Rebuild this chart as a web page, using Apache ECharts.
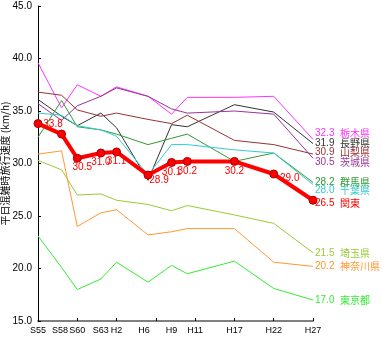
<!DOCTYPE html>
<html><head><meta charset="utf-8">
<script src="https://cdn.jsdelivr.net/npm/echarts@6/dist/echarts.min.js"></script>
<style>html,body{margin:0;padding:0;background:#fff}#c{width:382px;height:340px}</style>
</head><body><div id="c"></div>
<script>
// ---- data ----
var years = [1980, 1983, 1985, 1988, 1990, 1994, 1997, 1999, 2005, 2010, 2015];
var yearLabels = ['S55', 'S58', 'S60', 'S63', 'H2', 'H6', 'H9', 'H11', 'H17', 'H22', 'H27'];
var labelPositions = [1980, 1982.8, 1985, 1988, 1990, 1993.5, 1997, 2000, 2005, 2010, 2015];
var tickYears = [1980, 1985, 1990, 1995, 2000, 2005, 2010, 2015];
var yTicks = [15, 20, 25, 30, 35, 40, 45];

var tochigi   = [39.6, 35.3, 37.5, 36.4, 37.3, 36.4, 34.7, 36.3, 36.3, 36.4, 32.3];
var nagano    = [36.1, 34.5, 33.6, 34.8, 33.4, 28.4, 33.7, 33.5, 35.6, 34.9, 31.9];
var yamanashi = [36.8, 36.5, 35.1, 34.5, 34.8, 34.2, 33.8, 34.6, 32.2, 31.8, 30.9];
var ibaraki   = [35.7, 34.1, 35.5, 36.4, 37.2, 36.4, 35.2, 34.8, 35.0, 34.7, 30.5];
var gunma     = [32.5, 36.0, 33.5, 33.2, 32.8, 31.8, 32.4, 32.8, 30.2, 31.0, 28.2];
var chiba     = [34.8, 34.6, 33.6, 33.2, 32.6, 28.9, 31.8, 31.8, 31.3, 31.0, 28.0];
var kanto     = [33.8, 32.8, 30.5, 31.0, 31.1, 28.9, 30.1, 30.2, 30.2, 29.0, 26.5];
var saitama   = [30.3, 29.4, 27.0, 27.1, 26.5, 26.1, 25.5, 26.0, 25.1, 24.3, 21.5];
var kanagawa  = [30.9, 31.2, 24.0, 25.3, 25.6, 23.2, 23.5, 23.8, 23.8, 20.6, 20.2];
var tokyo     = [23.1, 20.1, 18.0, 19.0, 20.6, 18.7, 20.3, 19.5, 20.7, 18.1, 17.0];

var seriesNames = ['栃木県', '長野県', '山梨県', '茨城県', '群馬県', '千葉県', '埼玉県', '神奈川県', '東京都', '関東'];
var axisName = '平日混雑時旅行速度 (km/h)';

// ---- styles ----
var styles = {
  '栃木県':  {data: tochigi,   color: '#ff33ff', dy: -6},
  '長野県':  {data: nagano,    color: '#333333', dy: 0},
  '山梨県':  {data: yamanashi, color: '#993333', dy: -2},
  '茨城県':  {data: ibaraki,   color: '#993399', dy: 4},
  '群馬県':  {data: gunma,     color: '#339933', dy: 0},
  '千葉県':  {data: chiba,     color: '#33cccc', dy: 6},
  '埼玉県':  {data: saitama,   color: '#99cc33', dy: 0},
  '神奈川県': {data: kanagawa,  color: '#ff9933', dy: 0},
  '東京都':  {data: tokyo,     color: '#33ee33', dy: 0},
  '関東':    {data: kanto,     color: '#ff0000', dy: 3}
};
var redLabelOffsets = {0: [15, -9], 2: [5, -1], 5: [11, -4], 9: [16, -5]};

var FONT = 'Arial, "Liberation Sans", sans-serif';
var CJK = '"Noto Sans CJK JP", sans-serif';

function pairs(arr) { return arr.map(function (v, i) { return [years[i], v]; }); }

var series = seriesNames.map(function (name) {
  var st = styles[name];
  var isKanto = name === '関東';
  var s = {
    name: name,
    type: 'line',
    data: pairs(st.data),
    z: isKanto ? 10 : 2,
    lineStyle: {color: st.color, width: isKanto ? 4 : 1},
    itemStyle: {color: st.color},
    symbol: isKanto ? 'circle' : 'none',
    symbolSize: 8,
    showSymbol: isKanto,
    animation: false,
    silent: true,
    endLabel: {
      show: true,
      distance: 2,
      offset: [0, st.dy],
      formatter: function (p) {
        return '{v|' + p.value[1].toFixed(1) + '}{n|' + name + '}';
      },
      rich: {
        v: {fontFamily: FONT, fontSize: 10, color: st.color, width: 25, align: 'left'},
        n: {fontFamily: CJK, fontSize: 10, color: st.color}
      }
    }
  };
  if (isKanto) {
    s.itemStyle = {color: '#ff0000', borderColor: '#aa0000', borderWidth: 1};
    s.data = st.data.map(function (v, i) {
      var item = {value: [years[i], v]};
      if (i === 1 || i === st.data.length - 1) {
        item.label = {show: false};
      } else {
        item.label = {show: true, position: 'bottom', distance: 0,
          offset: redLabelOffsets[i] || [0, 0],
          formatter: function (p) { return p.value[1].toFixed(1); },
          color: '#ff0000', fontFamily: FONT, fontSize: 10};
      }
      return item;
    });
  }
  return s;
});

var chart = echarts.init(document.getElementById('c'), null, {renderer: 'canvas'});
chart.setOption({
  backgroundColor: '#ffffff',
  animation: false,
  grid: {left: 38, right: 69, top: 6, bottom: 19, containLabel: false, outerBoundsMode: 'none'},
  xAxis: {
    type: 'value', min: 1980, max: 2015, interval: 5,
    axisLine: {show: true, lineStyle: {color: '#808080', width: 2}},
    axisTick: {show: true, inside: true, length: 3, customValues: tickYears, lineStyle: {color: '#000'}},
    splitLine: {show: false},
    axisLabel: {
      customValues: labelPositions,
      margin: 5, color: '#000', fontFamily: FONT, fontSize: 9,
      hideOverlap: false,
      formatter: function (v) {
        var i = labelPositions.indexOf(v);
        return i >= 0 ? yearLabels[i] : '';
      }
    }
  },
  yAxis: {
    type: 'value', min: 15, max: 45, interval: 5,
    name: axisName, nameLocation: 'middle', nameRotate: 90, nameGap: 28,
    nameMoveOverlap: false,
    nameTextStyle: {fontFamily: CJK, fontSize: 10, color: '#000'},
    axisLine: {show: true, lineStyle: {color: '#000', width: 1}},
    axisTick: {show: true, inside: true, length: 3, lineStyle: {color: '#000'}},
    splitLine: {show: false},
    axisLabel: {color: '#000', fontFamily: FONT, fontSize: 10, margin: 6,
      formatter: function (v) { return yTicks.indexOf(v) >= 0 ? v.toFixed(1) : ''; }}
  },
  series: series
});
</script>
</body></html>
